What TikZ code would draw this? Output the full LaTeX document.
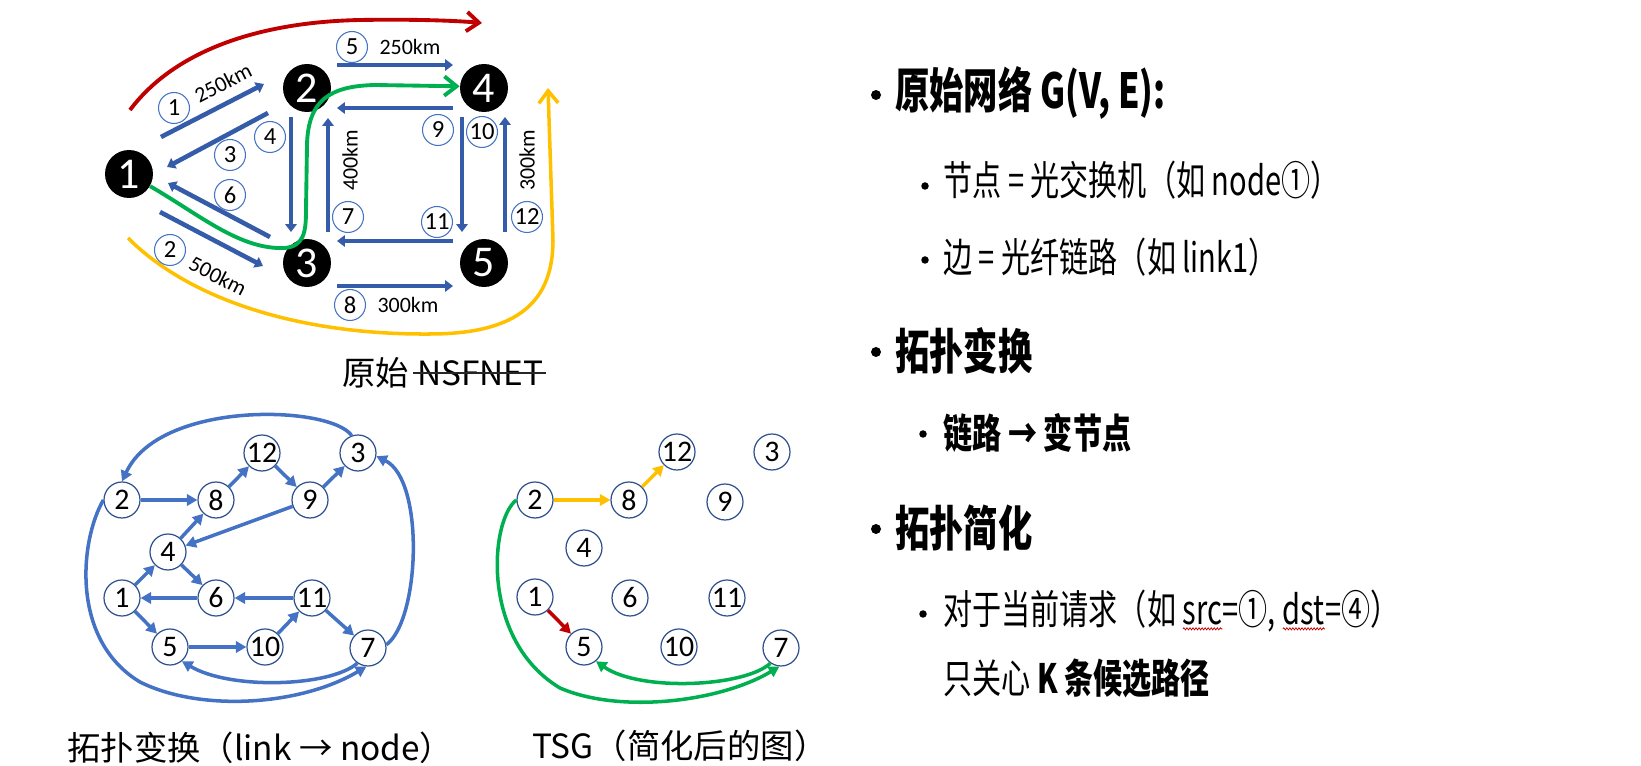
\documentclass[tikz,border=0pt]{standalone}
\usepackage{fontspec}
\usepackage{graphicx}
\usetikzlibrary{arrows.meta,decorations.pathmorphing}
\newfontfamily\cjk{Noto Sans CJK SC}
\newfontfamily\carl{Carlito}
\definecolor{linkblue}{RGB}{52,92,168}
\definecolor{gblue}{RGB}{68,114,196}
\definecolor{gline}{RGB}{47,82,143}
\definecolor{pred}{RGB}{192,0,0}
\definecolor{pgreen}{RGB}{0,176,80}
\definecolor{pyellow}{RGB}{255,192,0}
\newcommand\wavyul[1]{\tikz[baseline=(w.base)]{\node[inner sep=0pt,outer sep=0pt](w){#1};\draw[pred,line width=0.5pt,decorate,decoration={snake,amplitude=0.6pt,segment length=2.4pt}]([yshift=-2.5pt]w.base west)--([yshift=-2.5pt]w.base east);}}
\begin{document}
\begin{tikzpicture}[x=0.02cm,y=-0.02cm,
  bign/.style={circle,fill=black,minimum size=0.96cm,inner sep=0pt,text=white,font=\carl\fontsize{25}{25}\selectfont},
  lab/.style={circle,draw=gblue,line width=0.6pt,fill=white,minimum size=0.62cm,inner sep=0pt,font=\carl\fontsize{14}{14}\selectfont},
  km/.style={inner sep=0pt,font=\carl\fontsize{12.5}{13}\selectfont},
  link/.style={draw=linkblue,line width=2.6pt,-{Triangle[length=4.5pt,width=6.5pt]}},
  gn/.style={circle,draw=gline,line width=0.7pt,fill=white,minimum size=0.72cm,inner sep=0pt,font=\carl\fontsize{17}{17}\selectfont},
  gedge/.style={draw=gblue,line width=2pt,-{Triangle[length=6pt,width=6.5pt]}},
  route/.style={line width=2.2pt,-{Straight Barb[length=7pt,width=11pt]}},
  captxt/.style={inner sep=0pt,anchor=west,font=\cjk\fontsize{19}{19}\selectfont},
  bigtxt/.style={inner sep=0pt,anchor=west,font=\cjk\bfseries\fontsize{27.5}{28}\selectfont},
  subtxt/.style={inner sep=0pt,anchor=west,font=\cjk\fontsize{23}{23}\selectfont},
  subbtxt/.style={inner sep=0pt,anchor=west,font=\cjk\bfseries\fontsize{23}{23}\selectfont},
  bul/.style={circle,fill=black,inner sep=0pt,minimum size=#1}
]
\useasboundingbox (0,0) rectangle (1641,766);

% ---------------- original network ----------------
\coordinate (rS) at (130,110); \coordinate (rE) at (482,23);
\coordinate (yS) at (128,238); \coordinate (yE) at (548,88);
\draw[route,pred] (rS) .. controls (175,50) and (260,22) .. (360,20) .. controls (420,19) and (460,21) .. (rE);

\node[bign] (n1) at (129,174) {1};
\node[bign] (n2) at (307,88) {2};
\node[bign] (n3) at (307,263) {3};
\node[bign] (n4) at (484,88) {4};
\node[bign] (n5) at (484,263) {5};

\draw[route,pyellow,line width=2pt] (yS) .. controls (190,300) and (300,335) .. (430,334) .. controls (520,334) and (553,300) .. (553,240) -- (yE);

\coordinate (a1s) at (161,137); \coordinate (a1e) at (264,84);
\coordinate (a2s) at (160,212); \coordinate (a2e) at (263,266);
\coordinate (a3s) at (268,113); \coordinate (a3e) at (167,167);
\coordinate (a4s) at (291,117); \coordinate (a4e) at (291,232);
\coordinate (a5s) at (337,65);  \coordinate (a5e) at (453,65);
\coordinate (a6s) at (270,237); \coordinate (a6e) at (168,183);
\coordinate (a7s) at (328,232); \coordinate (a7e) at (328,118);
\coordinate (a8s) at (337,286); \coordinate (a8e) at (453,286);
\coordinate (a9s) at (453,108); \coordinate (a9e) at (337,108);
\coordinate (a10s) at (462,117); \coordinate (a10e) at (462,232);
\coordinate (a11s) at (453,241); \coordinate (a11e) at (337,241);
\coordinate (a12s) at (505,232); \coordinate (a12e) at (505,117);
\foreach \i in {1,...,12} {\draw[link] (a\i s) -- (a\i e);}

\draw[route,pgreen] (n1.-30) .. controls (200,215) and (240,250) .. (285,248) .. controls (304,246) and (306,232) .. (306,210) -- (307,145) .. controls (308,100) and (330,86) .. (375,85) -- (n4.176);

\node[lab] (l1) at (174,108) {1};
\node[lab] (l2) at (170,250) {2};
\node[lab] (l3) at (230,155) {3};
\node[lab] (l4) at (270,137) {4};
\node[lab] (l5) at (352,47) {5};
\node[lab] (l6) at (230,195) {6};
\node[lab] (l7) at (348,217) {7};
\node[lab] (l8) at (350,305) {8};
\node[lab] (l9) at (438,130) {9};
\node[lab] (l10) at (482,132) {10};
\node[lab] (l11) at (437,222) {11};
\node[lab] (l12) at (527,217) {12};

\node[km,rotate=27] (k1) at (223,83) {250km};
\node[km] (k5) at (410,47) {250km};
\node[km,rotate=-27] (k2) at (218,276) {500km};
\node[km,rotate=90] (k7) at (350,160) {400km};
\node[km,rotate=90] (k12) at (527,160) {300km};
\node[km] (k8) at (408,305) {300km};

\node[captxt] (c0a) at (342,373) {原始};
\node[captxt] (c0b) at (417,373) {NSFNET};
\draw[black!85,line width=0.6pt] ([xshift=-2pt]c0b.west) -- ([xshift=1pt]c0b.east);

% ---------------- transformed graph ----------------
\node[gn] (b1) at (122,598) {1};
\node[gn] (b2) at (122,500) {2};
\node[gn] (b3) at (358,453) {3};
\node[gn] (b4) at (168,552) {4};
\node[gn] (b5) at (170,647) {5};
\node[gn] (b6) at (216,598) {6};
\node[gn] (b7) at (368,648) {7};
\node[gn] (b8) at (216,500) {8};
\node[gn] (b9) at (310,500) {9};
\node[gn] (b10) at (265,647) {10};
\node[gn] (b11) at (312,598) {11};
\node[gn] (b12) at (262,453) {12};

\foreach \a/\b in {2/8,8/12,12/9,9/3,9/4,4/8,1/4,4/6,6/1,11/6,1/5,5/10,10/11,11/7}
  {\draw[gedge] (b\a) -- (b\b);}
\draw[gedge] (b3.110) .. controls (330,405) and (160,400) .. (b2.90);
\draw[gedge] (b2.180) .. controls (80,540) and (70,640) .. (140,682) .. controls (200,712) and (300,706) .. (b7.265);
\draw[gedge] (b7.235) .. controls (330,687) and (230,690) .. (b5.-50);
\draw[gedge] (b7.10) .. controls (420,620) and (425,480) .. (b3.-10);

\node[captxt] (c1) at (67,748) {拓扑变换（link → node）};

% ---------------- TSG ----------------
\node[gn] (t1) at (535,597) {1};
\node[gn] (t2) at (535,500) {2};
\node[gn] (t3) at (772,452) {3};
\node[gn] (t4) at (584,548) {4};
\node[gn] (t5) at (584,647) {5};
\node[gn] (t6) at (630,598) {6};
\node[gn] (t7) at (781,648) {7};
\node[gn] (t8) at (629,500) {8};
\node[gn] (t9) at (725,502) {9};
\node[gn] (t10) at (679,647) {10};
\node[gn] (t11) at (727,598) {11};
\node[gn] (t12) at (677,452) {12};

\draw[gedge,draw=pyellow] (t2) -- (t8);
\draw[gedge,draw=pyellow] (t8) -- (t12);
\draw[gedge,draw=pred] (t1) -- (t5);
\draw[gedge,draw=pgreen] (t2.180) .. controls (490,520) and (480,640) .. (560,688) .. controls (620,714) and (720,702) .. (t7.265);
\draw[gedge,draw=pgreen] (t7.235) .. controls (745,687) and (640,692) .. (t5.-50);

\node[captxt] (c2) at (532,746) {TSG（简化后的图）};

% ---------------- right text ----------------
\node[bul=0.2cm] (d1) at (876,95) {};
\node[bigtxt] (r1) at (895,93) {\scalebox{0.71}[1]{原始网络 G(V, E):}};
\node[bul=0.15cm] (d2) at (925,186) {};
\node[subtxt] (r2) at (943,180) {\scalebox{0.72}[1]{节点 = 光交换机（如 node①）}};
\node[bul=0.15cm] (d3) at (925,260) {};
\node[subtxt] (r3) at (943,257) {\scalebox{0.72}[1]{边 = 光纤链路（如 link1）}};
\node[bul=0.2cm] (d4) at (876,352) {};
\node[bigtxt] (r4) at (895,351) {\scalebox{0.71}[1]{拓扑变换}};
\node[bul=0.15cm] (d5) at (923,434) {};
\node[subbtxt] (r5) at (943,433) {\scalebox{0.72}[1]{链路 → 变节点}};
\node[bul=0.2cm] (d6) at (876,529) {};
\node[bigtxt] (r6) at (895,528) {\scalebox{0.71}[1]{拓扑简化}};
\node[bul=0.15cm] (d7) at (923,614) {};
\node[subtxt] (r7) at (943,611) {\scalebox{0.72}[1]{对于当前请求（如 \wavyul{src}=①, \wavyul{dst}=④）}};
\node[subtxt] (r8) at (943,678) {\scalebox{0.72}[1]{只关心 {\bfseries K 条候选路径}}};
\end{tikzpicture}
\end{document}
